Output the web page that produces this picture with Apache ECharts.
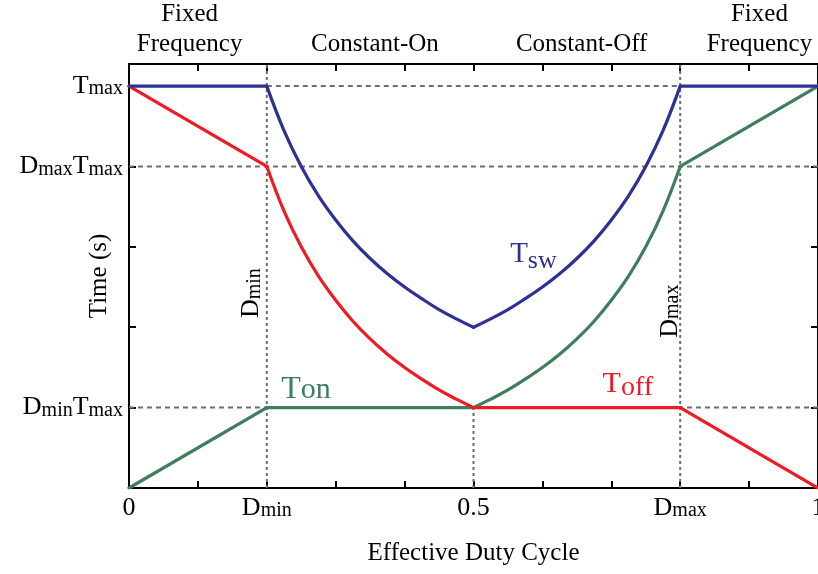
<!DOCTYPE html>
<html>
<head>
<meta charset="utf-8">
<script src="https://cdn.jsdelivr.net/npm/echarts@6/dist/echarts.min.js"></script>
<style>
  html, body { margin: 0; padding: 0; background: #fff; }
  #chart { width: 818px; height: 574px; }
</style>
</head>
<body>
<div id="chart"></div>
<script>
// Effective duty cycle samples and the corresponding timing curves (normalised to Tmax)
const duty = [0, 0.2, 0.225, 0.25, 0.275, 0.3, 0.325, 0.35, 0.375, 0.4, 0.425, 0.45, 0.475, 0.5,
              0.525, 0.55, 0.575, 0.6, 0.625, 0.65, 0.675, 0.7, 0.725, 0.75, 0.775, 0.8, 1];
const tSw  = [1, 1, 0.889, 0.8, 0.727, 0.667, 0.615, 0.571, 0.533, 0.5, 0.471, 0.444, 0.421, 0.4,
              0.421, 0.444, 0.471, 0.5, 0.533, 0.571, 0.615, 0.667, 0.727, 0.8, 0.889, 1, 1];
const tOn  = [0, 0.2, 0.2, 0.2, 0.2, 0.2, 0.2, 0.2, 0.2, 0.2, 0.2, 0.2, 0.2, 0.2,
              0.221, 0.244, 0.271, 0.3, 0.333, 0.371, 0.415, 0.467, 0.527, 0.6, 0.689, 0.8, 1];
const tOff = [1, 0.8, 0.689, 0.6, 0.527, 0.467, 0.415, 0.371, 0.333, 0.3, 0.271, 0.244, 0.221, 0.2,
              0.2, 0.2, 0.2, 0.2, 0.2, 0.2, 0.2, 0.2, 0.2, 0.2, 0.2, 0.2, 0];

// Operating limits
const dMin = 0.2;
const dMax = 0.8;
const tMax = 1;

// Axis ticks and labels
const xTicks = [0, 0.1, 0.2, 0.3, 0.4, 0.5, 0.6, 0.7, 0.8, 0.9, 1];
const xLabelVals = [0, 0.2, 0.5, 0.8, 1];
const xLabelText = ['0', '{b|D}{s|min}', '0.5', '{b|D}{s|max}', '1'];
const yTicks = [0, 0.2, 0.4, 0.6, 0.8, 1];
const yLabelVals = [0.2, 0.8, 1];
const yLabelText = ['{b|D}{s|min}{b|T}{s|max}', '{b|D}{s|max}{b|T}{s|max}', '{b|T}{s|max}'];
const yTop = 1.055;

// Operating regions across the top
const regionNames = ['Fixed\nFrequency', 'Constant-On', 'Constant-Off', 'Fixed\nFrequency'];
const regionCentres = [0.088, 0.357, 0.657, 0.915];

// Index ranges of the piecewise regions: fixed frequency / constant-on / constant-off / fixed frequency
const pieces = [[0, 1, false], [1, 13, true], [13, 25, true], [25, 26, false]];

const FONT = '"Liberation Serif", "DejaVu Serif", serif';
const BLUE = '#2e3192';
const RED = '#ed1c24';
const GREEN = '#3f7d5c';
const GUIDE = '#6d6e71';

const richLabel = {
  b: { fontFamily: FONT, fontSize: 26, color: '#000', verticalAlign: 'bottom' },
  s: { fontFamily: FONT, fontSize: 20, color: '#000', verticalAlign: 'bottom' }
};

function guide(data, dash, width) {
  return {
    type: 'line', data: data, symbol: 'none', silent: true, z: 1,
    lineStyle: { color: GUIDE, width: width, type: dash }
  };
}

function curve(name, ys, color, z) {
  return pieces.map(([a, b, smooth]) => ({
    name: name, type: 'line', symbol: 'none', z: z, smooth: smooth ? 0.4 : false,
    data: duty.slice(a, b + 1).map((d, i) => [d, ys[a + i]]),
    lineStyle: { color: color, width: 3.2, cap: 'round', join: 'round' }
  }));
}

const axisLineStyle = { onZero: false, show: true, lineStyle: { color: '#000', width: 2 } };

const chart = echarts.init(document.getElementById('chart'), null, { renderer: 'canvas' });

chart.setOption({
  animation: false,
  backgroundColor: '#fff',
  grid: { left: 129, right: 0, top: 64, bottom: 86, outerBoundsMode: 'none', containLabel: false },
  xAxis: [{
    type: 'value', min: 0, max: 1,
    name: 'Effective Duty Cycle', nameLocation: 'middle', nameGap: 53, nameMoveOverlap: false,
    nameTextStyle: { fontFamily: FONT, fontSize: 25, color: '#000' },
    axisLine: axisLineStyle,
    axisTick: { inside: true, length: 7, customValues: xTicks, lineStyle: { color: '#000', width: 2 } },
    axisLabel: {
      customValues: xLabelVals, margin: 7,
      fontFamily: FONT, fontSize: 26, color: '#000',
      formatter: (v) => xLabelText[xLabelVals.indexOf(v)],
      rich: richLabel
    },
    splitLine: { show: false }
  }, {
    type: 'value', min: 0, max: 1, position: 'top',
    axisLine: axisLineStyle,
    axisTick: { inside: true, length: 7, customValues: xTicks, lineStyle: { color: '#000', width: 2 } },
    axisLabel: { show: false },
    splitLine: { show: false }
  }],
  yAxis: [{
    type: 'value', min: 0, max: yTop,
    name: 'Time (s)', nameLocation: 'middle', nameGap: 17, nameRotate: 90, nameMoveOverlap: false,
    nameTextStyle: { fontFamily: FONT, fontSize: 25, color: '#000' },
    axisLine: axisLineStyle,
    axisTick: { show: true, inside: true, length: 7, customValues: yTicks, lineStyle: { color: '#000', width: 2 } },
    axisLabel: {
      customValues: yLabelVals, margin: 6,
      formatter: (v) => yLabelText[yLabelVals.indexOf(v)],
      rich: richLabel
    },
    splitLine: { show: false }
  }, {
    type: 'value', min: 0, max: yTop, position: 'right',
    axisLine: axisLineStyle,
    axisTick: { show: true, inside: true, length: 7, customValues: yTicks, lineStyle: { color: '#000', width: 2 } },
    axisLabel: { show: false },
    splitLine: { show: false }
  }],
  series: [
    // Reference guides
    guide([[dMin, tMax], [dMax, tMax]], [5, 4], 2),
    guide([[0, dMax * tMax], [1, dMax * tMax]], [5, 4], 2),
    guide([[0, dMin * tMax], [1, dMin * tMax]], [5, 4], 2),
    guide([[dMin, 0], [dMin, yTop]], [3, 3], 2),
    guide([[dMax, 0], [dMax, yTop]], [3, 3], 2),
    guide([[0.5, 0], [0.5, dMin * tMax]], [3, 3], 2),
    // Timing curves
    ...curve('Ton', tOn, GREEN, 3),
    ...curve('Toff', tOff, RED, 4),
    ...curve('Tsw', tSw, BLUE, 5)
  ]
});

// Annotations placed in data coordinates
const px = (x, y) => chart.convertToPixel({ xAxisIndex: 0, yAxisIndex: 0 }, [x, y]);
const gridTop = px(0, yTop)[1];

const graphics = [];
regionNames.forEach((name, i) => {
  const p = px(regionCentres[i], yTop);
  graphics.push({
    type: 'text', x: p[0], y: gridTop - 5,
    style: {
      text: name, fontFamily: FONT, fontSize: 25, fill: '#000',
      align: 'center', verticalAlign: 'bottom', lineHeight: 30
    }
  });
});

function curveLabel(x, y, main, sub, color, subDrop, mainSize, subSize) {
  const p = px(x, y);
  return {
    type: 'text', x: p[0], y: p[1],
    style: {
      text: '{m|' + main + '}{s|' + sub + '}',
      align: 'center', verticalAlign: 'middle',
      rich: {
        m: { fontFamily: FONT, fontSize: mainSize, fill: color, verticalAlign: 'bottom', padding: [0, 0, subDrop, 0] },
        s: { fontFamily: FONT, fontSize: subSize, fill: color, verticalAlign: 'bottom' }
      }
    }
  };
}
graphics.push(curveLabel(0.587, 0.575, 'T', 'sw', BLUE, 5, 29, 26));
graphics.push(curveLabel(0.257, 0.245, 'T', 'on', GREEN, 0, 32, 30));
graphics.push(curveLabel(0.724, 0.255, 'T', 'off', RED, 3, 30, 28));

function rotatedLabel(x, y, sub) {
  const p = px(x, y);
  return {
    type: 'text', x: p[0], y: p[1], rotation: Math.PI / 2,
    style: {
      text: '{b|D}{s|' + sub + '}', align: 'center', verticalAlign: 'middle',
      rich: richLabel
    }
  };
}
graphics.push(rotatedLabel(0.178, 0.485, 'min'));
graphics.push(rotatedLabel(0.785, 0.44, 'max'));

chart.setOption({ graphic: graphics });
</script>
</body>
</html>
